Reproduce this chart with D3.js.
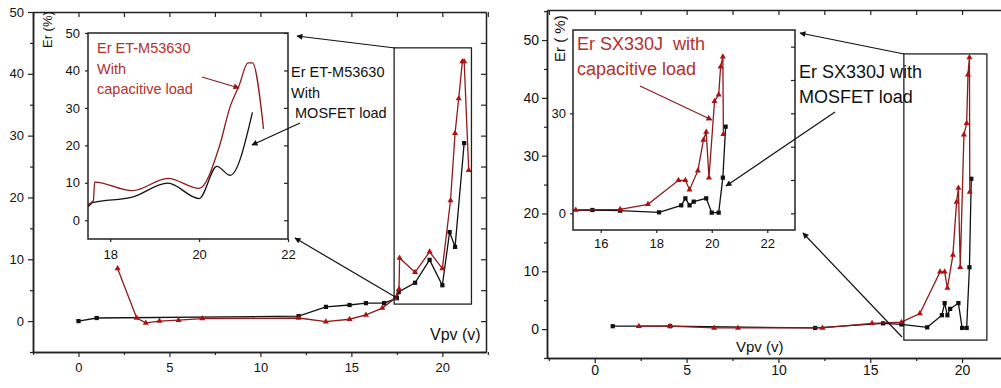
<!DOCTYPE html>
<html><head><meta charset="utf-8">
<script src="https://cdn.jsdelivr.net/npm/d3@7"></script>
<style>
body{margin:0;background:#fff}
svg{display:block}
text{font-family:"Liberation Sans",Arial,sans-serif}
</style>
</head><body>
<svg id="c" width="1001" height="388"></svg>
<script>
// ---------- DATA ----------
// Left panel: ET-M53630
const leftMosfetX = [0, 1.0, 12.1, 13.6, 14.9, 15.8, 16.8, 17.5, 17.6, 18.5, 19.3, 20.0, 20.4, 20.7, 21.2];
const leftMosfetY = [0, 0.5, 0.8, 2.3, 2.6, 2.9, 2.9, 3.7, 4.7, 6.2, 9.9, 5.8, 14.4, 12.0, 28.8];
const leftCapX = [2.15, 3.2, 3.7, 4.45, 5.5, 6.8, 12.1, 13.6, 14.9, 15.8, 16.7, 17.4, 17.62, 17.65, 18.5, 19.3, 20.0, 20.45, 20.7, 20.9, 21.1, 21.2, 21.45];
const leftCapY = [8.5, 0.5, -0.3, 0, 0.15, 0.4, 0.5, -0.1, 0.3, 1.0, 2.1, 3.7, 5.2, 10.2, 7.9, 11.2, 8.5, 19.5, 30.4, 36.0, 42.0, 42.0, 24.4];
// Right panel: SX330J
const rightMosfetX = [0.98, 4.1, 12.0, 15.7, 16.7, 18.1, 18.9, 19.05, 19.2, 19.35, 19.8, 20.0, 20.25, 20.4, 20.5];
const rightMosfetY = [0.5, 0.5, 0.2, 1.0, 0.8, 0.3, 2.4, 4.5, 2.4, 3.5, 4.5, 0.2, 0.2, 10.7, 26.0];
const rightCapX = [2.4, 4.1, 6.5, 7.8, 12.4, 15.1, 16.7, 17.7, 18.8, 19.05, 19.2, 19.5, 19.7, 19.8, 19.9, 20.1, 20.25, 20.32, 20.4, 20.42];
const rightCapY = [0.5, 0.5, 0.2, 0.2, 0.2, 1.0, 1.2, 2.7, 9.9, 9.9, 7.1, 12.8, 22.0, 24.4, 10.7, 33.6, 35.6, 44.0, 47.0, 23.7];

// Tick labels
const mainXTicks = [0, 5, 10, 15, 20];
const mainYTicks = [0, 10, 20, 30, 40, 50];
const leftInsetXTicks = [18, 20, 22];
const leftInsetYTicks = [0, 10, 20, 30, 40, 50];
const rightInsetXTicks = [16, 18, 20, 22];
const rightInsetYTicks = [0, 30];

// Zoom regions (data coords)
const leftZoomX = [17.35, 21.6], leftZoomY = [2.75, 44.2];
const rightZoomX = [16.83, 21.35], rightZoomY = [-1.9, 47.6];

// Texts
const leftCapLabel = ["Er ET-M53630", "With", "capacitive load"];
const leftMosLabel = ["Er ET-M53630", "With", " MOSFET load"];
const rightCapLabel = ["Er SX330J  with", "capacitive load"];
const rightMosLabel = ["Er SX330J with", "MOSFET load"];

// ---------- DRAW ----------
const RED = "#8e1b1b", RED_M = "#b01010", RED_T = "#b3312c", BLK = "#111";
const svg = d3.select("#c");
const defs = svg.append("defs");
function arrowDef(id, color){
  defs.append("marker").attr("id", id).attr("viewBox", "0 0 10 10")
    .attr("refX", 9).attr("refY", 5).attr("markerWidth", 7).attr("markerHeight", 5)
    .attr("orient", "auto").append("path").attr("d", "M0,0 L10,5 L0,10 z").attr("fill", color);
}
arrowDef("ab", BLK); arrowDef("ar", RED);

const zip = (xs, ys) => xs.map((v, i) => [v, ys[i]]);
let clipN = 0;
function clip(x0, y0, w, h){
  const id = "clip" + (clipN++);
  defs.append("clipPath").attr("id", id).append("rect").attr("x", x0).attr("y", y0).attr("width", w).attr("height", h);
  return "url(#" + id + ")";
}
function styleAxis(sel, fs){
  sel.select(".domain").attr("stroke", "#222").attr("stroke-width", 1.5);
  sel.selectAll(".tick line").attr("stroke", "#222").attr("stroke-width", 1.2);
  sel.selectAll("text").attr("font-size", fs).attr("fill", "#111");
}
function minorOf(ticks, step){
  const out = [];
  for (let i = 0; i < ticks.length; i++) out.push(ticks[i] - step);
  out.push(ticks[ticks.length - 1] + step);
  return out;
}

function series(g, x, y, pts, color, mcolor, sym, curve, markers){
  g.append("path").datum(pts).attr("fill", "none").attr("stroke", color).attr("stroke-width", 1.3)
    .attr("d", d3.line().x(d => x(d[0])).y(d => y(d[1])).curve(curve));
  if (markers){
    g.selectAll(null).data(pts).enter().append("path")
      .attr("transform", d => `translate(${x(d[0])},${y(d[1])})`)
      .attr("d", d3.symbol().type(sym).size(sym === d3.symbolSquare ? 18 : 16))
      .attr("fill", mcolor);
  }
}

function panel(c){
  const g = svg.append("g");
  const x = d3.scaleLinear().domain(c.xDomain).range([c.L, c.R]);
  const y = d3.scaleLinear().domain(c.yDomain).range([c.B, c.T]);
  const fmt = d3.format("d");
  // axes
  const minorX = minorOf(c.xTicks, 2.5), minorY = minorOf(c.yTicks, 5);
  const bx = g.append("g").attr("transform", `translate(0,${c.B})`)
    .call(d3.axisBottom(x).tickValues(c.xTicks).tickSize(5).tickSizeOuter(0).tickPadding(c.xPad).tickFormat(fmt));
  styleAxis(bx, c.fs);
  const bxm = g.append("g").attr("transform", `translate(0,${c.B})`)
    .call(d3.axisBottom(x).tickValues(minorX).tickSize(3).tickSizeOuter(0).tickFormat(""));
  styleAxis(bxm, c.fs);
  const ly = g.append("g").attr("transform", `translate(${c.L},0)`)
    .call(d3.axisLeft(y).tickValues(c.yTicks).tickSize(5).tickSizeOuter(0).tickPadding(c.yPad).tickFormat(fmt));
  styleAxis(ly, c.fs);
  const lym = g.append("g").attr("transform", `translate(${c.L},0)`)
    .call(d3.axisLeft(y).tickValues(minorY).tickSize(3).tickSizeOuter(0).tickFormat(""));
  styleAxis(lym, c.fs);
  const tx = g.append("g").attr("transform", `translate(0,${c.T})`)
    .call(d3.axisTop(x).tickValues(c.xTicks.concat(minorX)).tickSize(-5).tickSizeOuter(0).tickFormat(""));
  styleAxis(tx, c.fs);
  const ry = g.append("g").attr("transform", `translate(${c.R},0)`)
    .call(d3.axisRight(y).tickValues(c.yTicks.concat(minorY)).tickSize(-5).tickSizeOuter(0).tickFormat(""));
  styleAxis(ry, c.fs);

  // axis titles
  g.append("text").attr("transform", `translate(${c.ylabX},${c.ylabY}) rotate(-90)`)
    .attr("font-size", c.ylabFs).attr("fill", "#111").text(c.ylab);
  g.append("text").attr("x", c.xlabX).attr("y", c.xlabY).attr("font-size", c.xlabFs).attr("fill", "#111").text("Vpv (v)");

  // main curves
  const cg = g.append("g").attr("clip-path", clip(c.L, c.T, c.R - c.L, c.B - c.T));
  series(cg, x, y, zip(c.mosX, c.mosY), BLK, BLK, d3.symbolSquare, d3.curveLinear, true);
  series(cg, x, y, zip(c.capX, c.capY), RED, RED_M, d3.symbolTriangle, d3.curveLinear, true);

  // zoom rectangle
  g.append("rect").attr("x", x(c.zoomX[0])).attr("y", y(c.zoomY[1]))
    .attr("width", x(c.zoomX[1]) - x(c.zoomX[0])).attr("height", y(c.zoomY[0]) - y(c.zoomY[1]))
    .attr("fill", "none").attr("stroke", "#222").attr("stroke-width", 1.3);

  // inset
  const I = c.inset;
  const ix = d3.scaleLinear().domain(I.xDomain).range([I.L, I.R]);
  const iy = d3.scaleLinear().domain(I.yDomain).range([I.B, I.T]);
  g.append("rect").attr("x", I.L).attr("y", I.T).attr("width", I.R - I.L).attr("height", I.B - I.T).attr("fill", "#fff");
  const ig = g.append("g").attr("clip-path", clip(I.L, I.T, I.R - I.L, I.B - I.T));
  series(ig, ix, iy, zip(c.mosX, c.mosY), BLK, BLK, d3.symbolSquare, I.curve, I.markers);
  series(ig, ix, iy, zip(c.capX, c.capY), RED, RED_M, d3.symbolTriangle, I.curve, I.markers);
  g.append("rect").attr("x", I.L).attr("y", I.T).attr("width", I.R - I.L).attr("height", I.B - I.T)
    .attr("fill", "none").attr("stroke", "#222").attr("stroke-width", 1.5);
  const iby = g.append("g").attr("transform", `translate(0,${I.B})`)
    .call(d3.axisBottom(ix).tickValues(I.xTicks).tickSize(3).tickSizeOuter(0).tickPadding(I.xPad).tickFormat(fmt));
  styleAxis(iby, I.fs); iby.select(".domain").remove();
  const ily = g.append("g").attr("transform", `translate(${I.L},0)`)
    .call(d3.axisLeft(iy).tickValues(I.yTicks).tickSize(3).tickSizeOuter(0).tickPadding(I.yPad).tickFormat(fmt));
  styleAxis(ily, I.fs); ily.select(".domain").remove();
  const iry = g.append("g").attr("transform", `translate(${I.R},0)`)
    .call(d3.axisRight(iy).tickValues(I.rTicks).tickSize(-4).tickSizeOuter(0).tickFormat(""));
  styleAxis(iry, I.fs); iry.select(".domain").remove();

  // labels
  function lines(arr, px, py, lh, fs, color){
    const t = g.append("text").attr("font-size", fs).attr("fill", color).style("white-space", "pre");
    arr.forEach((s, i) => t.append("tspan").attr("x", px).attr("y", py + i * lh).text(s));
  }
  lines(c.capLabel, c.capLab[0], c.capLab[1], c.labLH, c.labFs, RED_T);
  lines(c.mosLabel, c.mosLab[0], c.mosLab[1], c.labLH, c.labFs, "#111");

  // arrows
  c.arrows.forEach(a => {
    g.append("line").attr("x1", a[0]).attr("y1", a[1]).attr("x2", a[2]).attr("y2", a[3])
      .attr("stroke", a[4] === "r" ? RED : BLK).attr("stroke-width", 1.2)
      .attr("marker-end", a[4] === "r" ? "url(#ar)" : "url(#ab)");
  });
}

panel({
  L: 33, R: 486, T: 12, B: 352, xDomain: [-2.5, 22.4], yDomain: [-5, 50],
  xTicks: mainXTicks, yTicks: mainYTicks, fs: 13, xPad: 6, yPad: 4,
  ylab: "Er (%)", ylabX: 52, ylabY: 48, ylabFs: 13,
  xlabX: 430, xlabY: 340, xlabFs: 16,
  mosX: leftMosfetX, mosY: leftMosfetY, capX: leftCapX, capY: leftCapY,
  zoomX: leftZoomX, zoomY: leftZoomY,
  inset: { L: 88, R: 288, T: 33, B: 239, xDomain: [17.5, 22], yDomain: [-5, 50],
    xTicks: leftInsetXTicks, yTicks: leftInsetYTicks, rTicks: leftInsetYTicks, fs: 13, xPad: 8, yPad: 5,
    curve: d3.curveMonotoneX, markers: false },
  capLabel: leftCapLabel, mosLabel: leftMosLabel,
  capLab: [97, 53], mosLab: [291, 77], labLH: 20.5, labFs: 14.5,
  arrows: [[202, 77, 239, 88, "r"], [300, 123, 252, 145, "b"], [395, 48, 297, 36, "b"], [397, 298, 295, 238, "b"]]
});

panel({
  L: 547, R: 1008, T: 10, B: 358, xDomain: [-2.6, 22.5], yDomain: [-5, 55.2],
  xTicks: mainXTicks, yTicks: mainYTicks, fs: 14, xPad: 2, yPad: 3,
  ylab: "Er ( %)", ylabX: 565, ylabY: 62, ylabFs: 15,
  xlabX: 736, xlabY: 352, xlabFs: 15,
  mosX: rightMosfetX, mosY: rightMosfetY, capX: rightCapX, capY: rightCapY,
  zoomX: rightZoomX, zoomY: rightZoomY,
  inset: { L: 573, R: 795, T: 30, B: 230, xDomain: [15, 23], yDomain: [-5, 55],
    xTicks: rightInsetXTicks, yTicks: rightInsetYTicks, rTicks: [0, 10, 20, 30, 40, 50], fs: 13, xPad: 6, yPad: 4,
    curve: d3.curveLinear, markers: true },
  capLabel: rightCapLabel, mosLabel: rightMosLabel,
  capLab: [577, 50], mosLab: [799, 78], labLH: 25, labFs: 18,
  arrows: [[640, 86, 712, 120, "r"], [835, 112, 726, 186, "b"], [904, 54, 800, 33, "b"], [902, 337, 803, 233, "b"]]
});
</script>
</body></html>
